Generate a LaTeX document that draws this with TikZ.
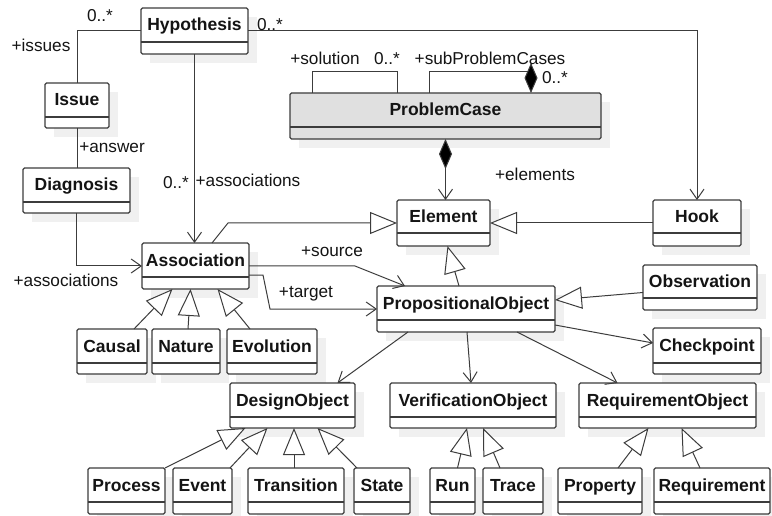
\documentclass[tikz,border=0pt]{standalone}
\usepackage{fontspec}
\setmainfont{Liberation Sans}
\usetikzlibrary{arrows.meta,calc}
\pgfdeclarelayer{bg}
\pgfsetlayers{bg,main}
\definecolor{lc}{RGB}{60,60,60}
\definecolor{sh}{RGB}{240,240,240}
\definecolor{pcfill}{RGB}{224,224,224}
\definecolor{tc}{RGB}{20,20,20}
\tikzset{
 cls/.style={draw=lc, line width=1.2pt, fill=white, rounded corners=1.5pt, inner sep=0pt, outer sep=0pt},
 ttl/.style={font=\fontsize{17.5}{20}\selectfont\bfseries, text=tc, inner sep=0pt, anchor=base},
 lbl/.style={font=\fontsize{17.2}{20}\selectfont, text=tc, inner sep=0pt, anchor=base},
 conn/.style={draw=lc, line width=1pt},
 nav/.style={conn, -{Straight Barb[length=10pt,width=14pt,line width=1pt]}},
 gen/.style={conn, -{Triangle[length=27pt,width=22pt,fill=white,line width=1pt]}},
 comp/.style={conn, {Diamond[length=30pt,width=13pt,fill=black]}-{Straight Barb[length=10pt,width=14pt,line width=1pt]}},
}
\newcommand\umlclass[8][white]{%
 \begin{pgfonlayer}{bg}\fill[sh] ({#3+9},{#4+9}) rectangle ({#5+9},{#6+9});\end{pgfonlayer}
 \node[cls, fill=#1, minimum width={(#5-#3)*1pt}, minimum height={(#6-#4)*1pt}] (#2) at ({(#3+#5)/2},{(#4+#6)/2}) {};
 \draw[draw=lc, line width=1.2pt] (#3,#7) -- (#5,#7);
 \node[ttl] at ({(#3+#5)/2},{(#4+#7)/2+6}) {#8};
}
\begin{document}
\begin{tikzpicture}[x=1pt,y=-1pt]
\useasboundingbox (0,0) rectangle (772,516);
\begin{pgfonlayer}{bg}\fill[white] (0,0) rectangle (772,516);\end{pgfonlayer}

\umlclass{hyp}{141}{8}{248}{54}{42}{Hypothesis}
\umlclass{issue}{45}{83}{109}{128}{117}{Issue}
\umlclass{diag}{23}{168}{130}{213}{202}{Diagnosis}
\umlclass[pcfill]{pc}{290}{93}{601}{139}{127}{ProblemCase}
\umlclass{elem}{397}{200}{490}{246}{233}{Element}
\umlclass{hook}{653}{200}{741}{246}{233}{Hook}
\umlclass{assoc}{142}{243}{249}{289}{277}{Association}
\umlclass{po}{377}{286}{555}{332}{320}{PropositionalObject}
\umlclass{obs}{643}{265}{757}{310}{298}{Observation}
\umlclass{chk}{653}{328}{761}{374}{363}{Checkpoint}
\umlclass{causal}{77}{329}{147}{374}{363}{Causal}
\umlclass{nature}{152}{329}{220}{374}{363}{Nature}
\umlclass{evol}{227}{329}{317}{374}{363}{Evolution}
\umlclass{dobj}{230}{383}{355}{428}{417}{DesignObject}
\umlclass{vobj}{390}{383}{556}{428}{417}{VerificationObject}
\umlclass{robj}{579}{383}{756}{428}{417}{RequirementObject}
\umlclass{proc}{88}{468}{165}{514}{502}{Process}
\umlclass{event}{173}{468}{232}{514}{502}{Event}
\umlclass{trans}{248}{468}{344}{514}{502}{Transition}
\umlclass{state}{354}{468}{410}{514}{502}{State}
\umlclass{run}{430}{468}{475}{514}{502}{Run}
\umlclass{trace}{483}{468}{543}{514}{502}{Trace}
\umlclass{prop}{558}{468}{642}{514}{502}{Property}
\umlclass{req}{654}{468}{770}{514}{502}{Requirement}

% associations
\draw[conn] (hyp.west) -| (issue.north);
\draw[conn] (issue.south) -- (issue.south |- diag.north);
\draw[nav] (hyp.south) -- (hyp.south |- assoc.north);
\draw[nav] (hyp.east) -| (hook.north);
\draw[nav] (diag.south) |- (assoc.west);
\draw[comp] (pc.south) -- (pc.south |- elem.north);
\draw[conn] ($(pc.north west)+(22,0)$) -- ++(0,-21) -| ($(pc.north west)+(107,0)$);
\draw[conn, -{Diamond[length=30pt,width=13pt,fill=black]}] ($(pc.north west)+(139,0)$) -- ++(0,-21) -| ($(pc.north west)+(241,0)$);
\draw[nav] (assoc.east) -- ($(assoc.east)+(106,0)$) -- ($(po.north west)+(28,0)$);
\draw[nav] ($(assoc.east)+(0,9)$) -- ($(assoc.east)+(14,9)$) -- ($(po.west)+(-107,0)$) -- (po.west);
\draw[nav] ($(po.east)+(0,16)$) -- ($(chk.west)+(0,-8)$);
\draw[nav] ($(po.south west)+(31,0)$) -- ($(dobj.north)+(45,0)$);
\draw[nav] ($(po.south)+(1,0)$) -- ($(vobj.north)+(-2,0)$);
\draw[nav] ($(po.south east)+(-38,0)$) -- ($(robj.north)+(-50,0)$);

% generalizations
\draw[gen] ($(assoc.north west)+(70,0)$) -- ($(elem.west)+(-169,0)$) -- (elem.west);
\draw[gen] (hook.west) -- (elem.east);
\draw[gen] ($(po.north)+(-7,0)$) -- ($(elem.south)+(4,0)$);
\draw[gen] ($(obs.west)+(0,5)$) -- ($(po.east)+(0,-9)$);
\draw[gen] ($(causal.north east)+(-13,0)$) -- ($(assoc.south)+(-23,0)$);
\draw[gen] ($(nature.north)+(2,0)$) -- ($(assoc.south)+(-5,0)$);
\draw[gen] ($(evol.north)+(-22,0)$) -- ($(assoc.south)+(22,0)$);
\draw[gen] (proc.north east) -- ($(dobj.south)+(-47,0)$);
\draw[gen] ($(event.north east)+(-2,0)$) -- ($(dobj.south)+(-25,0)$);
\draw[gen] ($(trans.north)+(-2,0)$) -- ($(dobj.south)+(1.5,0)$);
\draw[gen] ($(state.north west)+(3,0)$) -- ($(dobj.south)+(25,0)$);
\draw[gen] ($(run.north)+(5,0)$) -- ($(vobj.south)+(-6,0)$);
\draw[gen] ($(trace.north)+(-13,0)$) -- ($(vobj.south)+(10,0)$);
\draw[gen] ($(prop.north)+(18,0)$) -- ($(robj.south)+(-19,0)$);
\draw[gen] ($(req.north)+(-12,0)$) -- ($(robj.south)+(14,0)$);

% labels
\node[lbl] at (100,22) {0..*};
\node[lbl] at (41,52) {+issues};
\node[lbl] at (112,153) {+answer};
\node[lbl] at (176,189) {0..*};
\node[lbl] at (248,187) {+associations};
\node[lbl] at (270,31) {0..*};
\node[lbl] at (325,65) {+solution};
\node[lbl] at (387,65) {0..*};
\node[lbl] at (490,65) {+subProblemCases};
\node[lbl] at (555,84) {0..*};
\node[lbl] at (535,181) {+elements};
\node[lbl] at (66,287) {+associations};
\node[lbl] at (332,256) {+source};
\node[lbl] at (306,298) {+target};
\end{tikzpicture}
\end{document}
